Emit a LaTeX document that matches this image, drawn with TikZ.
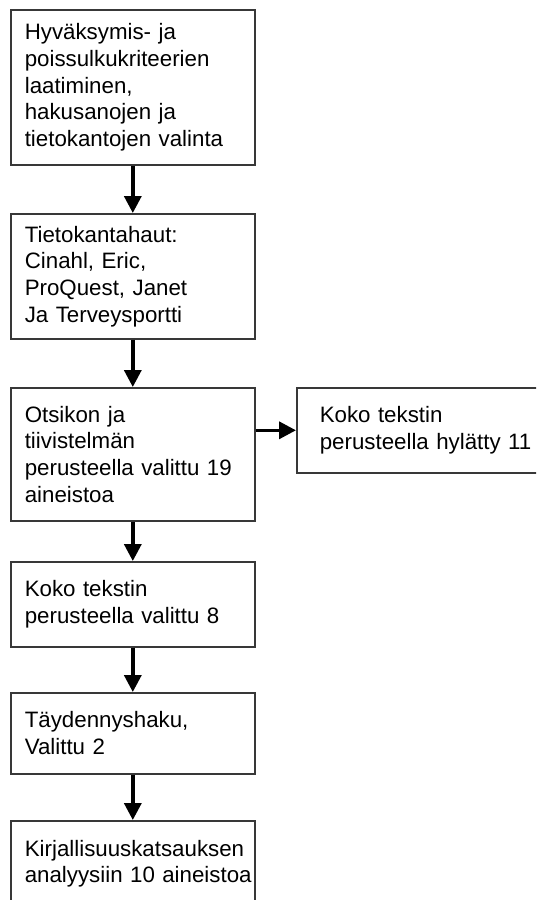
\documentclass[tikz,border=0pt]{standalone}
\usepackage{fontspec}
\setmainfont{Liberation Sans}
\usetikzlibrary{arrows.meta}
\hyphenpenalty=10000
\begin{document}
\begin{tikzpicture}
[x=1pt,y=-1pt,
stage/.style={rectangle,draw=black!78,line width=1.6pt,anchor=north west,text width=216pt,inner xsep=14pt,inner ysep=0pt,align=left,font=\fontsize{22.3}{26.7}\selectfont},
flow/.style={line width=3.5pt,-{Triangle[length=17pt,width=17pt]}}]
\useasboundingbox (0,0) rectangle (536,900);
\clip (0,0) rectangle (536,900);
\node[stage,minimum height=155pt] (kriteerit) at (10,9) {Hyväksymis- ja\\poissulkukriteerien\\laatiminen,\\hakusanojen ja\\tietokantojen~valinta};
\node[stage,minimum height=125pt] (haut) at (10,213) {Tietokantahaut:\\Cinahl, Eric,\\ProQuest, Janet\\Ja Terveysportti};
\node[stage,minimum height=133pt] (valitut19) at (10,387) {Otsikon ja\\tiivistelmän\\perusteella~valittu~19\\aineistoa};
\node[stage,minimum height=85pt,text width=230pt,inner xsep=23pt] (hylatty) at (296,387) {Koko tekstin\\perusteella~hylätty~11};
\node[stage,minimum height=85pt] (valitut8) at (10,561) {Koko tekstin\\perusteella~valittu~8};
\node[stage,minimum height=81pt] (taydennys) at (10,692) {Täydennyshaku,\\Valittu 2};
\node[stage,minimum height=86pt] (analyysi) at (10,820) {Kirjallisuuskatsauksen\\analyysiin~10~aineistoa};
\draw[flow] (kriteerit) -- (haut);
\draw[flow] (haut) -- (valitut19);
\draw[flow] (valitut19.east |- hylatty.west) -- (hylatty.west);
\draw[flow] (valitut19) -- (valitut8);
\draw[flow] (valitut8) -- (taydennys);
\draw[flow] (taydennys) -- (analyysi);
\end{tikzpicture}
\end{document}
